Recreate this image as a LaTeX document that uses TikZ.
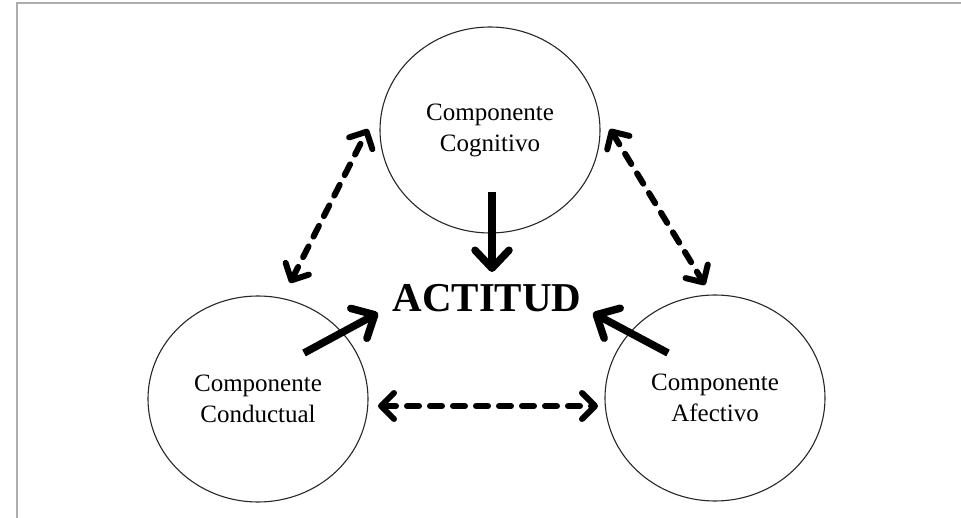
\documentclass[tikz,border=0pt]{standalone}
\usepackage{fontspec}
\setmainfont{Liberation Serif}
\usetikzlibrary{shapes.geometric,arrows.meta}
\begin{document}
\begin{tikzpicture}[x=1pt,y=-1pt,
  comp/.style={draw=black!85,ellipse,line width=1.1pt,minimum width=220pt,minimum height=206pt,inner sep=0pt,align=center,font=\fontsize{25}{31}\selectfont},
  solidarr/.style={line width=7.5pt,-{Straight Barb[round,length=18pt,width=34pt]}},
  dasharr/.style={line width=6pt,line cap=round,dash pattern=on 12pt off 11pt,
    {Straight Barb[round,length=13pt,width=26pt]}-{Straight Barb[round,length=13pt,width=26pt]}},
  frame/.style={draw=black!32,line width=2pt}]
\useasboundingbox (0,0) rectangle (961,518);
\draw[frame] (16.5,518) -- (16.5,3.5) -- (961,3.5);
\node[comp] (cog) at (490,130) {Componente\\Cognitivo};
\node[comp] (con) at (258,399) {Componente\\Conductual};
\node[comp] (afe) at (715,398) {Componente\\Afectivo};
\node[font=\fontsize{41}{41}\selectfont\bfseries,inner sep=0pt] (act) at (487,298) {ACTITUD};
% solid arrows
\coordinate (cogS) at (492,192);
\coordinate (cogT) at (492,272);
\coordinate (conS) at (304,353);
\coordinate (conT) at (378,313);
\coordinate (afeS) at (668,353);
\coordinate (afeT) at (593,313);
\draw[solidarr] (cogS) -- (cogT);
\draw[solidarr] (conS) -- (conT);
\draw[solidarr] (afeS) -- (afeT);
% dashed double arrows
\coordinate (d1a) at (290,283);
\coordinate (d1b) at (368,129);
\coordinate (d2a) at (610,129);
\coordinate (d2b) at (705,285);
\coordinate (d3a) at (378,406);
\coordinate (d3b) at (598,406);
\draw[dasharr] (d1a) -- (d1b);
\draw[dasharr] (d2a) -- (d2b);
\draw[dasharr] (d3a) -- (d3b);
\end{tikzpicture}
\end{document}
